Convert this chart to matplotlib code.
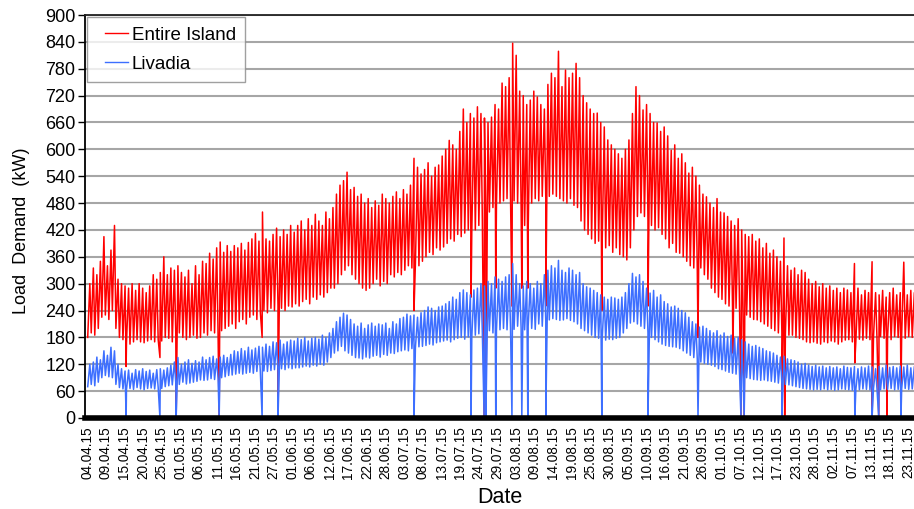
import numpy as np
import matplotlib
matplotlib.use('Agg')
import matplotlib.pyplot as plt
from matplotlib.lines import Line2D
from matplotlib.legend_handler import HandlerLine2D

plt.rcParams['font.family'] = ['Liberation Sans', 'DejaVu Sans']

# daily peak / trough of the load, one value per day from 04.04.15 (kW)
island_max = [300, 335, 320, 350, 405, 340, 375, 430, 310, 300,
              295, 290, 300, 285, 300, 290, 280, 295, 320, 310,
              325, 360, 320, 335, 330, 340, 325, 315, 330, 300,
              340, 320, 350, 345, 368, 355, 380, 393, 370, 385,
              372, 385, 380, 390, 375, 392, 400, 412, 395, 460,
              400, 395, 410, 424, 405, 420, 410, 430, 415, 430,
              440, 420, 445, 430, 455, 440, 430, 460, 445, 470,
              500, 520, 530, 549, 510, 515, 495, 500, 480, 490,
              470, 485, 475, 500, 490, 480, 495, 505, 490, 510,
              500, 520, 580, 560, 545, 555, 570, 540, 560, 565,
              585, 600, 620, 610, 600, 640, 690, 660, 680, 670,
              695, 680, 670, 660, 672, 700, 690, 748, 740, 760,
              837, 810, 730, 720, 700, 710, 730, 717, 700, 690,
              745, 770, 760, 819, 740, 777, 760, 770, 792, 760,
              720, 704, 690, 680, 681, 660, 650, 621, 610, 600,
              590, 580, 600, 621, 680, 740, 720, 688, 700, 680,
              660, 659, 640, 650, 630, 598, 610, 580, 590, 570,
              547, 560, 540, 520, 500, 494, 480, 470, 490, 460,
              458, 450, 440, 430, 445, 420, 410, 405, 410, 395,
              400, 380, 390, 368, 375, 360, 350, 402, 340, 330,
              335, 320, 330, 325, 310, 300, 305, 293, 300, 290,
              295, 285, 290, 280, 290, 286, 280, 345, 290, 275,
              285, 280, 349, 280, 275, 285, 270, 280, 290, 275,
              280, 348, 275, 285, 280, 290]
island_min = [180, 190, 185, 200, 225, 230, 220, 240, 200, 180,
              175, 168, 165, 170, 175, 170, 168, 172, 175, 170,
              175, 172, 180, 178, 170, 185, 190, 180, 175, 180,
              185, 178, 180, 190, 185, 195, 190, 185, 195, 200,
              205, 210, 200, 215, 220, 210, 225, 230, 220, 235,
              240, 235, 245, 240, 250, 245, 240, 250, 248, 255,
              250, 260, 265, 255, 270, 265, 275, 270, 280, 290,
              290, 300, 320, 330, 340, 320, 310, 300, 290, 285,
              290, 300, 310, 295, 305, 300, 320, 315, 325, 320,
              330, 340, 335, 345, 340, 350, 360, 370, 365, 380,
              375, 382, 390, 400, 395, 410, 405, 413, 420, 415,
              420, 430, 440, 450, 460, 470, 475, 480, 485, 490,
              490, 485, 480, 470, 430, 420, 480, 490, 485, 495,
              490, 495, 500, 495, 490, 485, 480, 490, 475, 470,
              440, 420, 410, 400, 390, 395, 390, 380, 385, 370,
              380, 365, 360, 353, 380, 420, 450, 458, 450, 440,
              430, 420, 425, 410, 400, 380, 390, 370, 368, 360,
              350, 340, 335, 330, 335, 320, 310, 290, 280, 270,
              265, 255, 250, 248, 245, 240, 235, 230, 225, 220,
              219, 215, 210, 205, 200, 195, 190, 192, 188, 185,
              185, 180, 178, 175, 170, 168, 170, 167, 165, 170,
              168, 172, 170, 165, 170, 174, 175, 170, 172, 176,
              174, 178, 175, 180, 176, 182, 178, 180, 175, 182,
              180, 185, 178, 182, 180, 185]
livadia_max = [120, 125, 136, 130, 150, 140, 158, 150, 120, 110,
               105, 107, 100, 108, 105, 110, 104, 107, 100, 108,
               110, 107, 112, 118, 125, 135, 120, 125, 130, 122,
               128, 125, 136, 130, 135, 138, 132, 136, 140, 135,
               142, 150, 148, 155, 150, 158, 152, 156, 160, 158,
               165, 160, 170, 168, 174, 165, 170, 174, 172, 178,
               175, 180, 172, 178, 180, 176, 185, 180, 190, 200,
               215, 225, 234, 230, 220, 210, 205, 212, 200, 208,
               212, 205, 210, 208, 212, 200, 215, 210, 222, 225,
               232, 228, 230, 225, 235, 240, 248, 245, 240, 248,
               250, 255, 260, 270, 265, 280, 286, 280, 275, 286,
               290, 300, 295, 305, 300, 315, 310, 305, 315, 320,
               345, 320, 300, 295, 305, 300, 290, 305, 300, 320,
               330, 340, 335, 352, 330, 325, 335, 330, 320, 325,
               300, 293, 290, 285, 280, 275, 270, 265, 270, 268,
               265, 270, 280, 300, 323, 315, 320, 305, 290, 279,
               285, 270, 275, 260, 255, 248, 250, 245, 240, 235,
               225, 215, 210, 203, 205, 200, 195, 190, 195, 185,
               190, 182, 185, 178, 180, 175, 170, 165, 160, 162,
               158, 155, 150, 148, 145, 140, 136, 138, 132, 130,
               128, 125, 120, 122, 118, 115, 118, 114, 116, 112,
               115, 112, 114, 110, 116, 113, 112, 115, 110, 114,
               112, 116, 114, 110, 115, 112, 118, 113, 115, 112,
               116, 114, 118, 112, 115, 113]
livadia_min = [70, 75, 72, 80, 90, 95, 92, 90, 75, 68,
               65, 63, 66, 64, 68, 65, 63, 66, 67, 65,
               68, 66, 70, 72, 74, 78, 75, 80, 76, 78,
               80, 82, 85, 84, 85, 88, 86, 88, 90, 92,
               95, 96, 98, 100, 98, 100, 102, 100, 104, 102,
               105, 104, 106, 108, 106, 110, 108, 112, 110, 112,
               112, 114, 116, 114, 118, 116, 120, 118, 125, 135,
               145, 150, 160, 150, 145, 140, 135, 134, 132, 136,
               134, 138, 140, 136, 142, 140, 145, 144, 148, 150,
               152, 150, 155, 157, 159, 160, 162, 165, 163, 168,
               170, 172, 174, 170, 175, 178, 180, 176, 181, 180,
               185, 188, 190, 192, 195, 190, 195, 197, 200, 197,
               200, 198, 205, 200, 197, 205, 200, 198, 210, 205,
               215, 219, 222, 220, 218, 219, 222, 218, 215, 210,
               200, 195, 190, 185, 180, 178, 176, 174, 176, 175,
               178, 180, 190, 200, 212, 215, 210, 205, 200, 190,
               180, 175, 170, 165, 162, 160, 159, 158, 155, 150,
               145, 140, 135, 130, 125, 122, 120, 118, 115, 110,
               108, 105, 102, 100, 98, 96, 92, 90, 88, 86,
               85, 84, 85, 83, 82, 80, 78, 76, 75, 74,
               72, 70, 68, 66, 65, 64, 63, 64, 63, 65,
               63, 64, 62, 63, 65, 64, 63, 62, 64, 63,
               65, 64, 63, 66, 64, 63, 65, 64, 66, 63,
               64, 65, 66, 64, 65, 66]

# short outages / data gaps (day after 04.04.15, value it fell to; nan = no gap)
gap_day = [11.1, 20.7, 25.3, 37.5, 49.7, 54.2, 92.8, 109.0, 112.7, 113.2,
           116.0, 120.6, 123.4, 125.1, 130.2, 146.1, 159.2, 173.4, 183.3,
           185.6, 186.5, 197.2, 198.0, 217.9, 222.8, 224.7, 227.0, 231.0]
gap_island = [115, 135, 0, 0, 180, 0, 240, 270, 0, 0,
              290, 250, 290, 290, 250, 240, 250, 180, 145,
              0, 0, 0, 0, 123, 0, 0, 0, 55]
gap_livadia = [0, 0, 0, 0, 0, 0, 0, 0, 0, 0,
               0, 0, 0, 0, 0, 0, 0, 0, np.nan,
               0, 0, 0, np.nan, 0, 0, 0, np.nan, 0]

date_labels = ['04.04.15', '09.04.15', '15.04.15', '20.04.15', '25.04.15',
               '01.05.15', '06.05.15', '11.05.15', '16.05.15', '21.05.15',
               '27.05.15', '01.06.15', '06.06.15', '12.06.15', '17.06.15',
               '22.06.15', '28.06.15', '03.07.15', '08.07.15', '13.07.15',
               '19.07.15', '24.07.15', '29.07.15', '03.08.15', '09.08.15',
               '14.08.15', '19.08.15', '25.08.15', '30.08.15', '05.09.15',
               '10.09.15', '16.09.15', '21.09.15', '26.09.15', '01.10.15',
               '07.10.15', '12.10.15', '17.10.15', '23.10.15', '28.10.15',
               '02.11.15', '07.11.15', '13.11.15', '18.11.15', '23.11.15']


def build(vmin, vmax, gvals):
    n = len(vmin)
    d = np.arange(n)
    xs = np.column_stack([d + 0.2, d + 0.8]).ravel()
    ys = np.column_stack([vmin, vmax]).ravel()
    gd = np.array(gap_day, dtype=float)
    gv = np.array(gvals, dtype=float)
    ok = ~np.isnan(gv)
    xs = np.concatenate([xs, gd[ok]])
    ys = np.concatenate([ys, gv[ok]])
    order = np.argsort(xs, kind='stable')
    return xs[order], ys[order]


fig = plt.figure(figsize=(9.14, 5.09), dpi=100)
ax = fig.add_axes([85/914, 91/509, 829/914, 403/509])

xr, yr = build(island_min, island_max, gap_island)
xb, yb = build(livadia_min, livadia_max, gap_livadia)
ax.plot(xr, yr, color='#ff0000', lw=1.1, label='Entire Island')
ax.plot(xb, yb, color='#3d6fff', lw=1.1, label='Livadia')

ax.set_ylim(0, 900)
ax.set_yticks(np.arange(0, 901, 60))
ax.set_xlim(-0.57, 234.7)
step = 233 / 44
ax.set_xticks(np.arange(len(date_labels)) * step)
ax.set_xticklabels(date_labels, rotation=90, fontsize=9.8)
ax.tick_params(axis='x', length=0, pad=6)
ax.tick_params(axis='y', labelsize=13, length=5, width=1, direction='out', pad=2)

ax.grid(axis='y', color='#a6a6a6', lw=1.5)
ax.set_axisbelow(True)
ax.spines['right'].set_visible(False)
ax.spines['top'].set_color('#222222')
ax.spines['top'].set_linewidth(1.3)
ax.spines['left'].set_linewidth(1.3)
ax.spines['bottom'].set_linewidth(4)

ax.set_xlabel('Date', fontsize=15.5)
ax.xaxis.set_label_coords(0.5, -0.172)
ax.set_ylabel('Load  Demand  (kW)', fontsize=13)
ax.yaxis.set_label_coords(-0.066, 0.465)

leg = ax.legend(loc='upper left', bbox_to_anchor=(0.003, 0.995), fontsize=13.5,
                frameon=True, fancybox=False, handlelength=1.67,
                handletextpad=0.2, borderpad=0.5, labelspacing=0.65,
                borderaxespad=0.0,
                handler_map={Line2D: HandlerLine2D(xpad=0.44)})
leg.get_frame().set_edgecolor('#888888')
leg.get_frame().set_linewidth(1.0)
for h in leg.get_lines():
    h.set_linewidth(1.0)

fig.savefig('out.png', dpi=100)
